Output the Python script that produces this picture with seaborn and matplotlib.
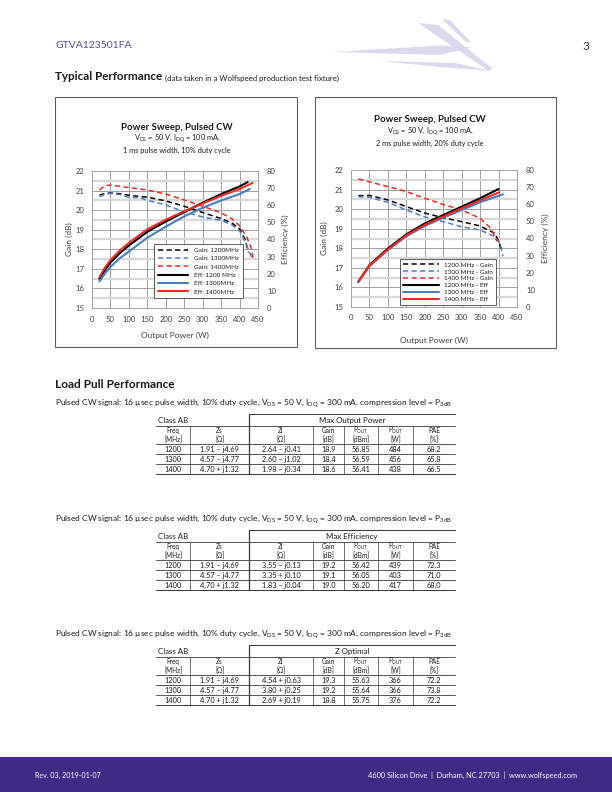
import matplotlib
matplotlib.use("Agg")
import matplotlib.pyplot as plt
import seaborn as sns
from matplotlib.patches import Polygon, Rectangle
from matplotlib.lines import Line2D
from matplotlib.ticker import MultipleLocator

# ---------------- data ----------------
# Chart 1: Power sweep, 1 ms pulse width, 10% duty cycle
c1_gain_p_1200 = [20, 35, 50, 75, 100, 150, 200, 250, 300, 350, 380, 400, 415, 424]
c1_gain_1200 = [20.77, 20.85, 20.88, 20.84, 20.76, 20.66, 20.47, 20.2, 19.88, 19.57, 19.33, 19.05, 18.5, 17.85]
c1_gain_p_1300 = [20, 35, 50, 75, 100, 130, 150, 200, 250, 300, 350, 380, 400, 415, 428, 433]
c1_gain_1300 = [20.69, 20.8, 20.86, 20.8, 20.65, 20.64, 20.5, 20.27, 19.91, 19.65, 19.48, 19.24, 18.95, 18.4, 17.8, 17.55]
c1_gain_p_1400 = [20, 35, 50, 75, 100, 150, 200, 250, 300, 350, 380, 400, 420, 431, 437]
c1_gain_1400 = [21.03, 21.25, 21.28, 21.22, 21.15, 21.03, 20.82, 20.52, 20.2, 19.86, 19.55, 19.2, 18.6, 18.1, 17.5]
c1_eff_p_1200 = [20, 35, 50, 75, 100, 150, 200, 250, 300, 350, 400, 422]
c1_eff_1200 = [17.0, 22.0, 26.5, 32.0, 36.5, 44.5, 50.5, 56.0, 61.5, 66.5, 71.0, 73.5]
c1_eff_p_1300 = [20, 35, 50, 75, 100, 150, 200, 250, 300, 350, 400, 428]
c1_eff_1300 = [15.5, 20.0, 24.0, 29.0, 33.0, 41.0, 47.5, 53.5, 58.5, 62.8, 66.5, 69.5]
c1_eff_p_1400 = [20, 35, 50, 75, 100, 150, 200, 250, 300, 350, 400, 435]
c1_eff_1400 = [18.0, 23.5, 28.0, 33.5, 38.0, 46.0, 51.5, 56.5, 61.0, 65.5, 69.5, 73.0]

# Chart 2: Power sweep, 2 ms pulse width, 20% duty cycle
c2_gain_p_1200 = [20, 50, 100, 150, 200, 250, 300, 350, 390, 402, 408]
c2_gain_1200 = [20.69, 20.7, 20.47, 20.13, 19.8, 19.56, 19.36, 19.14, 18.76, 18.3, 17.8]
c2_gain_p_1300 = [20, 50, 100, 150, 200, 250, 300, 350, 390, 405, 412]
c2_gain_1300 = [20.64, 20.6, 20.35, 19.96, 19.6, 19.36, 19.1, 18.93, 18.6, 18.2, 17.6]
c2_gain_p_1400 = [20, 50, 100, 150, 200, 250, 300, 350, 380, 396]
c2_gain_1400 = [21.54, 21.4, 21.15, 20.9, 20.55, 20.24, 19.96, 19.53, 19.0, 18.35]
c2_eff_p_1200 = [20, 50, 100, 150, 200, 250, 300, 350, 400]
c2_eff_1200 = [14.8, 24.5, 34.2, 42.4, 48.8, 53.7, 58.6, 63.5, 68.9]
c2_eff_p_1300 = [20, 50, 100, 150, 200, 250, 300, 350, 412]
c2_eff_1300 = [14.5, 23.8, 33.3, 41.3, 47.3, 52.2, 56.6, 61.2, 65.8]
c2_eff_p_1400 = [20, 50, 100, 150, 200, 250, 300, 350, 402]
c2_eff_1400 = [14.8, 24.2, 33.6, 41.8, 47.9, 52.8, 57.6, 62.3, 67.0]

c1_labels = ["Gain: 1200MHz", "Gain: 1300MHz", "Gain: 1400MHz",
             "Eff: 1200 MHz", "Eff: 1300MHz", "Eff: 1400MHz"]
c2_labels = ["1200 MHz - Gain", "1300 MHz - Gain", "1400 MHz - Gain",
             "1200 MHz - Eff", "1300 MHz - Eff", "1400 MHz - Eff"]
x_ticks = [0, 50, 100, 150, 200, 250, 300, 350, 400, 450]
gain_ticks = [15, 16, 17, 18, 19, 20, 21, 22]
eff_ticks = [0, 10, 20, 30, 40, 50, 60, 70, 80]

# Load pull tables
lp_freq = ["1200", "1300", "1400"]
lp_zs = ["1.91 \u2013 j4.69", "4.57 \u2013 j4.77", "4.70 + j1.32"]
t1_zl = ["2.64 \u2013 j0.41", "2.60 \u2013 j1.02", "1.98 \u2013 j0.34"]
t1_gain = [18.9, 18.4, 18.6]
t1_dbm = [56.85, 56.59, 56.41]
t1_w = [484, 456, 438]
t1_pae = [68.2, 65.8, 66.5]
t2_zl = ["3.55 \u2013 j0.13", "3.35 + j0.10", "1.83 \u2013 j0.04"]
t2_gain = [19.2, 19.1, 19.0]
t2_dbm = [56.42, 56.05, 56.20]
t2_w = [439, 403, 417]
t2_pae = [72.3, 71.0, 68.0]
t3_zl = ["4.54 + j0.63", "3.80 + j0.25", "2.69 + j0.19"]
t3_gain = [19.3, 19.2, 18.8]
t3_dbm = [55.63, 55.64, 55.75]
t3_w = [366, 366, 376]
t3_pae = [72.2, 73.8, 72.2]

# ---------------- style ----------------
sns.set_theme(style="white")
plt.rcParams['font.family'] = ['Lato', 'DejaVu Sans']
plt.rcParams['mathtext.fontset'] = 'custom'
plt.rcParams['mathtext.rm'] = 'Lato'
plt.rcParams['mathtext.it'] = 'Lato:italic'
plt.rcParams['mathtext.bf'] = 'Lato:bold'

W, H = 612, 792
fig = plt.figure(figsize=(W / 100, H / 100), dpi=100)
fig.patch.set_facecolor('white')

page = fig.add_axes([0, 0, 1, 1])
page.set_zorder(0)
page.set_xlim(0, W)
page.set_ylim(H, 0)
page.axis('off')


def frect(x0, y0, x1, y1):
    return [x0 / W, 1 - y1 / H, (x1 - x0) / W, (y1 - y0) / H]


BLACK, BLUE, RED = '#000000', '#4a7fc1', '#ee2a24'
GRID = '#a0a0a0'
TXT = '#404040'
DARK = '#1a1a1a'

# ---------------- header ----------------
logo_col = '#dcd9ef'
for pts in [
    [(333, 52), (440, 45.5), (472, 47.5), (440, 55)],
    [(418, 23), (438, 25), (493, 69), (488, 70.5)],
    [(442, 19), (450, 20), (471, 42), (466, 42)],
    [(380, 61), (455, 63), (492, 71), (440, 67)],
]:
    page.add_patch(Polygon(pts, closed=True, facecolor=logo_col, edgecolor='none'))

page.text(55, 46, "GTVA123501FA", color='#5b4b9f', fontsize=7.5, va='center')
page.text(582, 46, "3", color='#333333', fontsize=8.5, va='center')
t = page.text(55, 77, "Typical Performance", fontsize=8.4, weight='bold', va='center', color=DARK)
r = fig.canvas.get_renderer()
bx = t.get_window_extent(renderer=r).x1
page.text(bx + 2.5, 78, "(data taken in a Wolfspeed production test fixture)", fontsize=5.7,
          va='center', color=DARK)


# ---------------- charts ----------------
def draw_chart(box, plot, title_xy, sub2, gain_data, eff_data, labels, leg_anchor, leg_kw,
               ylab_x, xlab_y, xpad):
    bx0, by0, bx1, by1 = box
    page.add_patch(Rectangle((bx0, by0), bx1 - bx0, by1 - by0, fill=False,
                             edgecolor='#595959', lw=0.75))
    tx, ty = title_xy
    page.text(tx, ty, "Power Sweep, Pulsed CW", fontsize=6.9, weight='bold', ha='center',
              va='center', color=DARK)
    page.text(tx, ty + 11.5, r"V$_\mathrm{DS}$ = 50 V, I$_\mathrm{DQ}$ = 100 mA,", fontsize=5.3,
              ha='center', va='center', color=DARK)
    page.text(tx, ty + 23.5, sub2, fontsize=5.3, ha='center', va='center', color=DARK)

    ax = fig.add_axes(frect(*plot))
    ax.set_zorder(1)
    ax2 = ax.twinx()
    ax2.set_zorder(2)
    ax2.patch.set_visible(False)

    colors = [BLACK, BLUE, RED]
    for (p, g), c in zip(gain_data, colors):
        sns.lineplot(x=p, y=g, ax=ax, color=c, lw=1.1, sort=False, estimator=None)
        ax.lines[-1].set_dashes((3.4, 2.2))
    for (p, e), c in zip(eff_data, colors):
        sns.lineplot(x=p, y=e, ax=ax2, color=c, lw=1.5, sort=False, estimator=None)

    ax.set_xlim(0, 450)
    ax.set_ylim(15, 22)
    ax2.set_ylim(0, 80)
    ax.set_xticks(x_ticks)
    ax.set_yticks(gain_ticks)
    ax2.set_yticks(eff_ticks)
    ax.yaxis.set_minor_locator(MultipleLocator(0.5))
    ax.set_axisbelow(True)
    ax.grid(True, which='major', color=GRID, lw=0.7)
    ax.grid(True, which='minor', axis='y', color='#d8d8d8', lw=1.6)
    ax2.grid(False)
    ax.set_xlabel("")
    ax.set_ylabel("")
    ax2.set_ylabel("")
    ax.tick_params(which='both', length=0, labelsize=5.5, labelcolor=TXT)
    ax.tick_params(axis='x', pad=xpad)
    ax.tick_params(axis='y', pad=5.3)
    ax2.tick_params(which='both', length=0, labelsize=5.5, labelcolor=TXT, pad=6.5)
    for s in ax.spines.values():
        s.set_color(GRID)
        s.set_linewidth(0.7)
    for s in ax2.spines.values():
        s.set_visible(False)

    px0, py0, px1, py1 = plot
    page.text(ylab_x[0], (py0 + py1) / 2, "Gain (dB)", rotation=90, fontsize=6.0,
              ha='center', va='center', color=TXT)
    page.text(ylab_x[1], (py0 + py1) / 2, "Efficiency (%)", rotation=90, fontsize=6.0,
              ha='center', va='center', color=TXT)
    page.text((px0 + px1) / 2, xlab_y, "Output Power (W)", fontsize=6.0,
              ha='center', va='center', color=TXT)

    handles = [Line2D([], [], color=c, lw=1.1, dashes=(3.4, 2.2)) for c in colors] + \
              [Line2D([], [], color=c, lw=1.5) for c in colors]
    leg = ax2.legend(handles, labels, loc='lower left', bbox_to_anchor=leg_anchor,
                     frameon=True, fancybox=False, framealpha=1, edgecolor='#404040',
                     **leg_kw)
    leg.get_frame().set_linewidth(0.6)
    for txt in leg.get_texts():
        txt.set_color(DARK)
    return ax, ax2


draw_chart(box=(55, 97, 297, 347), plot=(92, 171, 258, 308), title_xy=(177, 127),
           sub2="1 ms pulse width, 10% duty cycle",
           gain_data=[(c1_gain_p_1200, c1_gain_1200), (c1_gain_p_1300, c1_gain_1300),
                      (c1_gain_p_1400, c1_gain_1400)],
           eff_data=[(c1_eff_p_1200, c1_eff_1200), (c1_eff_p_1300, c1_eff_1300),
                     (c1_eff_p_1400, c1_eff_1400)],
           labels=c1_labels, leg_anchor=(0.373, 0.07),
           leg_kw=dict(fontsize=4.6, handlelength=4.8, labelspacing=0.45, borderpad=0.6,
                       handletextpad=0.9, borderaxespad=0),
           ylab_x=(69, 285), xlab_y=335, xpad=6.0)

draw_chart(box=(315, 97, 556, 348), plot=(351, 170, 517, 307), title_xy=(430, 120),
           sub2="2 ms pulse width, 20% duty cycle",
           gain_data=[(c2_gain_p_1200, c2_gain_1200), (c2_gain_p_1300, c2_gain_1300),
                      (c2_gain_p_1400, c2_gain_1400)],
           eff_data=[(c2_eff_p_1200, c2_eff_1200), (c2_eff_p_1300, c2_eff_1300),
                     (c2_eff_p_1400, c2_eff_1400)],
           labels=c2_labels, leg_anchor=(0.295, 0.015),
           leg_kw=dict(fontsize=4.6, handlelength=5.6, labelspacing=0.22, borderpad=0.45,
                       handletextpad=0.9, borderaxespad=0),
           ylab_x=(324, 545), xlab_y=340, xpad=5.4)

# ---------------- load pull ----------------
page.text(55, 385, "Load Pull Performance", fontsize=8.5, weight='bold', va='center', color=DARK)
sub = (r"Pulsed CW signal: 16 µsec pulse width, 10% duty cycle, V$_\mathrm{DS}$ = 50 V, "
       r"I$_\mathrm{DQ}$ = 300 mA, compression level = P$_\mathrm{3dB}$")

TX0, TX1 = 156, 455
VX = [190, 249, 313, 344, 378, 413]
CX = [173, 219.5, 281, 328.5, 361, 395.5, 434]
LC = '#3a3a3a'


def draw_table(top, heading, zl, gain, dbm, w, pae):
    page.text(55, top - 10, sub, fontsize=6.0, va='center', color=DARK)
    bottom = top + 60
    page.plot([249, TX1], [top, top], color=LC, lw=0.75)
    page.plot([TX0, TX1], [top + 12, top + 12], color=LC, lw=0.6)
    page.plot([TX0, TX1], [top + 30, top + 30], color=LC, lw=0.6)
    page.plot([TX0, TX1], [top + 40, top + 40], color=LC, lw=0.6)
    page.plot([TX0, TX1], [top + 50, top + 50], color=LC, lw=0.6)
    page.plot([TX0, TX1], [bottom, bottom], color=LC, lw=0.75)
    page.plot([249, 249], [top, bottom], color=LC, lw=0.9)
    for vx in VX:
        if vx != 249:
            page.plot([vx, vx], [top + 12, bottom], color=LC, lw=0.5)
    fs = 5.3
    hfs = 4.7
    page.text(158, top + 6.3, "Class AB", fontsize=5.7, va='center', color=DARK)
    page.text((249 + TX1) / 2, top + 6.3, heading, fontsize=5.7, ha='center', va='center',
              color=DARK)
    h1 = ["Freq", "Zs", "Zl", "Gain", r"P$_\mathrm{OUT}$", r"P$_\mathrm{OUT}$", "PAE"]
    h2 = ["[MHz]", "[\u03a9]", "[\u03a9]", "[dB]", "[dBm]", "[W]", "[%]"]
    for cx, a, b in zip(CX, h1, h2):
        page.text(cx, top + 16.6, a, fontsize=hfs, ha='center', va='center', color=DARK)
        page.text(cx, top + 25.2, b, fontsize=hfs, ha='center', va='center', color=DARK)
    for i in range(3):
        y = top + 35.3 + 10 * i
        vals = [lp_freq[i], lp_zs[i], zl[i], f"{gain[i]:.1f}", f"{dbm[i]:.2f}",
                f"{w[i]:d}", f"{pae[i]:.1f}"]
        for cx, v in zip(CX, vals):
            page.text(cx, y, v, fontsize=fs, ha='center', va='center', color=DARK)


draw_table(414, "Max Output Power", t1_zl, t1_gain, t1_dbm, t1_w, t1_pae)
draw_table(530, "Max Efficiency", t2_zl, t2_gain, t2_dbm, t2_w, t2_pae)
draw_table(645, "Z Optimal", t3_zl, t3_gain, t3_dbm, t3_w, t3_pae)

# ---------------- footer ----------------
page.add_patch(Rectangle((0, 757), W, 35, facecolor='#3f2a85', edgecolor='none'))
page.text(35, 775, "Rev. 03, 2019-01-07", fontsize=5.1, color='white', va='center')
page.text(577, 775, "4600 Silicon Drive  |  Durham, NC 27703  |  www.wolfspeed.com", fontsize=5.3,
          color='white', va='center', ha='right')

fig.savefig("out.png", dpi=100, facecolor='white')
